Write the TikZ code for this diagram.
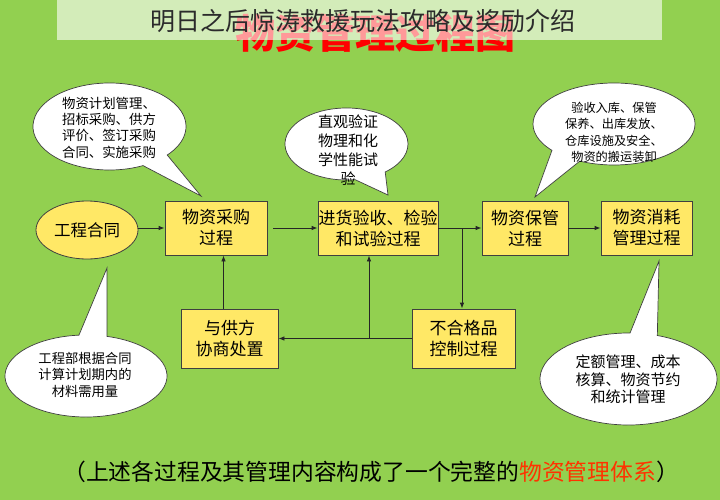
\documentclass[tikz,border=0pt]{standalone}
\usepackage{fontspec}
\setmainfont{Liberation Serif}
\newfontfamily\cjk{Noto Sans CJK SC}
\usetikzlibrary{arrows.meta,calc,shapes.geometric}
\definecolor{bggreen}{HTML}{92D050}
\definecolor{boxyellow}{HTML}{FFE866}
\definecolor{edgegray}{HTML}{3F3F3F}
\definecolor{titlered}{HTML}{FF0000}
\definecolor{sysred}{HTML}{FF3300}
\definecolor{titletext}{HTML}{2B2B2B}
\begin{document}
\begin{tikzpicture}[x=1pt,y=-1pt,
  proc/.style={draw=edgegray, line width=0.8pt, fill=boxyellow, inner sep=0pt, align=center, font=\cjk\fontsize{17}{21}\selectfont},
  conn/.style={draw=black!85, line width=0.8pt},
  arr/.style={conn, -{Latex[length=6pt,width=4.5pt]}},
  callout/.style={draw=edgegray, line width=0.7pt, fill=white},
  ctext/.style={align=center, inner sep=0pt, text=black}
]
\useasboundingbox (0,0) rectangle (720,500);
\fill[bggreen] (0,0) rectangle (720,500);

% red title behind translucent banner
\node[text=titlered, inner sep=0pt] (redtitle) at (375,33) {\cjk\bfseries\fontsize{40}{44}\selectfont 物资管理过程图};
\fill[white, opacity=0.6] (57,0) rectangle (662,40);
\node[text=titletext, inner sep=0pt] (title) at (363,21) {\cjk\fontsize{25}{28}\selectfont 明日之后惊涛救援玩法攻略及奖励介绍};

% callouts
\path[callout] (109.5,126.5) ++(64:76.5 and 43.5) arc[start angle=64,end angle=401,x radius=76.5,y radius=43.5] -- (201,196) -- cycle;
\node[ctext, align=left, font=\cjk\fontsize{13.4}{16.3}\selectfont] (c1) at (109,127.5) {物资计划管理、\\招标采购、供方\\评价、签订采购\\合同、实施采购};

\path[callout] (346.5,144) ++(82:61.5 and 36) arc[start angle=82,end angle=411,x radius=61.5,y radius=36] -- (388,195) -- cycle;
\node[ctext, font=\cjk\fontsize{15}{19}\selectfont] (c2) at (348,150.5) {直观验证\\物理和化\\学性能试\\验};

\path[callout] (614,124) ++(140:81 and 41) arc[start angle=140,end angle=475,x radius=81,y radius=41] -- (535,197) -- cycle;
\node[ctext, font=\cjk\fontsize{12.2}{16.3}\selectfont] (c3) at (614,132.5) {验收入库、保管\\保养、出库发放、\\仓库设施及安全、\\物资的搬运装卸};

\path[callout] (86,376) ++(285:81 and 41) arc[start angle=285,end angle=625,x radius=81,y radius=41] -- (107,268) -- cycle;
\node[ctext, font=\cjk\fontsize{13.3}{16.5}\selectfont] (c4) at (85,374.5) {工程部根据合同\\计算计划期内的\\材料需用量};

\path[callout] (628.5,379) ++(289:88.5 and 46) arc[start angle=289,end angle=631,x radius=88.5,y radius=46] -- (659,261) -- cycle;
\node[ctext, font=\cjk\fontsize{15}{17.5}\selectfont] (c5) at (628,379.5) {定额管理、成本\\核算、物资节约\\和统计管理};

% process nodes
\node[ellipse, draw=edgegray, line width=0.8pt, fill=boxyellow, minimum width=102pt, minimum height=58pt, inner sep=0pt, font=\cjk\fontsize{16.5}{20}\selectfont] (e0) at (87,230) {工程合同};
\node[proc, minimum width=102pt, minimum height=54pt] (b1) at (216,228) {物资采购\\过程};
\node[proc, minimum width=120pt, minimum height=54pt] (b2) at (378,228) {进货验收、检验\\和试验过程};
\node[proc, minimum width=86pt, minimum height=54pt] (b3) at (525,228) {物资保管\\过程};
\node[proc, minimum width=91pt, minimum height=54pt] (b4) at (646.5,228) {物资消耗\\管理过程};
\node[proc, minimum width=97pt, minimum height=59pt] (b5) at (229.5,338.5) {与供方\\协商处置};
\node[proc, minimum width=103pt, minimum height=59pt] (b6) at (463.5,338.5) {不合格品\\控制过程};

% connectors
\draw[arr] (b1.west -| e0.east) -- (b1.west);
\draw[arr, shorten <=6pt] (b1.east) -- (b2.west);
\coordinate (j1) at (462,228);
\draw[conn] (b2.east) -- (j1);
\draw[arr] (j1) -- (b3.west);
\draw[arr] (j1) -- (j1 |- b6.north);
\draw[arr] (b3.east) -- (b4.west);
\draw[arr] (b6.west) -- (b5.east);
\coordinate (j2) at (369,338.5);
\draw[arr] (j2) -- (j2 |- b2.south);
\draw[arr] ([xshift=-6pt]b5.north) -- ([xshift=-6pt]b5.north |- b1.south);

% footer
\node[inner sep=0pt] (foot) at (371,472) {\cjk\fontsize{22.8}{25}\selectfont （上述各过程及其管理内容构成了一个完整的\textcolor{sysred}{物资管理体系}）};
\end{tikzpicture}
\end{document}
